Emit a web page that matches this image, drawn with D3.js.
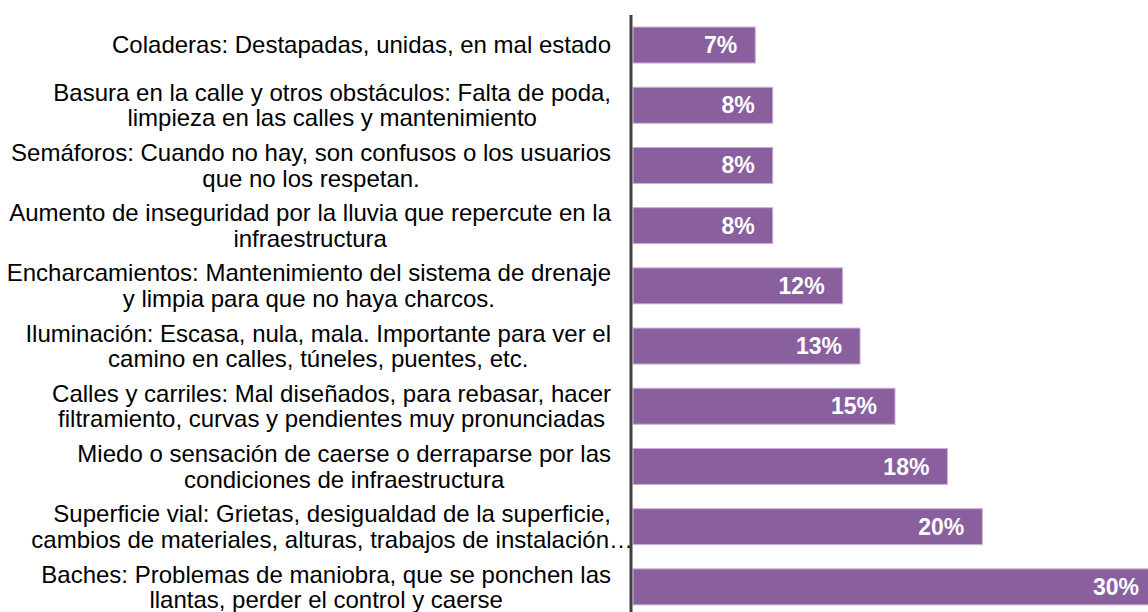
<!DOCTYPE html>
<html>
<head>
<meta charset="utf-8">
<script src="https://cdn.jsdelivr.net/npm/d3@7/dist/d3.min.js"></script>
<style>
  html, body { margin: 0; padding: 0; background: #fff; }
  svg { display: block; }
</style>
</head>
<body>
<svg id="chart" width="1148" height="612"></svg>
<script>
// Categories (each entry = lines of the label)
const categories = [
  ["Coladeras: Destapadas, unidas, en mal estado"],
  ["Basura en la calle y otros obstáculos: Falta de poda,", "limpieza en las calles y mantenimiento"],
  ["Semáforos: Cuando no hay, son confusos o los usuarios", "que no los respetan."],
  ["Aumento de inseguridad por la lluvia que repercute en la", "infraestructura"],
  ["Encharcamientos: Mantenimiento del sistema de drenaje", "y limpia para que no haya charcos."],
  ["Iluminación: Escasa, nula, mala. Importante para ver el", "camino en calles, túneles, puentes, etc."],
  ["Calles y carriles: Mal diseñados, para rebasar, hacer", "filtramiento, curvas y pendientes muy pronunciadas"],
  ["Miedo o sensación de caerse o derraparse por las", "condiciones de infraestructura"],
  ["Superficie vial: Grietas, desigualdad de la superficie,", "cambios de materiales, alturas, trabajos de instalación…"],
  ["Baches: Problemas de maniobra, que se ponchen las", "llantas, perder el control y caerse"]
];
const values = [7, 8, 8, 8, 12, 13, 15, 18, 20, 30];
const valueLabels = ["7%", "8%", "8%", "8%", "12%", "13%", "15%", "18%", "20%", "30%"];

const svg = d3.select("#chart");
const W = 1148, H = 612;
const axisX = 631;
const labelRight = 611;

const y = d3.scaleBand()
  .domain(d3.range(categories.length))
  .range([15, 616.9])
  .paddingInner(0.402)
  .paddingOuter(0.2);

const x = d3.scaleLinear().domain([0, 30]).range([633, 1157]);

const data = values.map((v, i) => ({ i, v, lab: valueLabels[i], lines: categories[i] }));

// Bars
svg.append("g").selectAll("rect").data(data).join("rect")
  .attr("x", x(0))
  .attr("y", d => y(d.i))
  .attr("width", d => x(d.v) - x(0))
  .attr("height", y.bandwidth())
  .attr("fill", "#8a5f9e")
  .attr("stroke", "#cbb1d9")
  .attr("stroke-width", 1);

// Value labels
svg.append("g").selectAll("text").data(data).join("text")
  .attr("x", d => x(d.v) - 18)
  .attr("y", d => y(d.i) + y.bandwidth() / 2)
  .attr("dy", "0.35em")
  .attr("text-anchor", "end")
  .attr("fill", "#fff")
  .attr("font-family", "'Liberation Sans', Arial, sans-serif")
  .attr("font-weight", "bold")
  .attr("font-size", 23)
  .text(d => d.lab);

// Category labels
const lineH = 25.5;
const labG = svg.append("g")
  .attr("font-family", "'Liberation Sans', Arial, sans-serif")
  .attr("font-size", 24)
  .attr("fill", "#000");

data.forEach(d => {
  const cy = y(d.i) + y.bandwidth() / 2;
  const n = d.lines.length;
  const t = labG.append("text").attr("text-anchor", "middle");
  const spans = d.lines.map((ln, k) =>
    t.append("tspan")
      .attr("y", cy + (k - (n - 1) / 2) * lineH)
      .attr("dy", "0.35em")
      .text(ln)
  );
  let w = 0;
  spans.forEach((s, k) => {
    const lw = s.node().getComputedTextLength();
    if (!d.lines[k].endsWith("…")) w = Math.max(w, lw);
  });
  const cx = labelRight - w / 2;
  spans.forEach(s => s.attr("x", cx));
});

// Axis line
svg.append("line")
  .attr("x1", axisX).attr("x2", axisX)
  .attr("y1", 15).attr("y2", H)
  .attr("stroke", "#404040")
  .attr("stroke-width", 3);
</script>
</body>
</html>
